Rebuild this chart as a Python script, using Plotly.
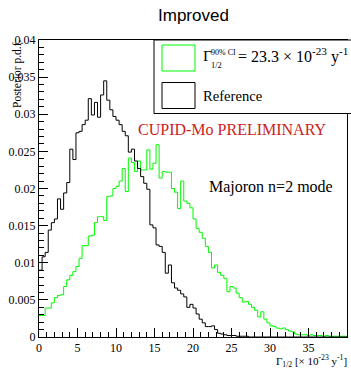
import plotly.graph_objects as go

# ---------------- data ----------------
bin_width = 0.4
n_bins = 100
bin_edges = [round(i * bin_width, 4) for i in range(n_bins + 1)]

reference_pdf = [
    0.0090, 0.0108, 0.0114, 0.0144, 0.0154, 0.0159, 0.0186, 0.0172, 0.0194, 0.0208,
    0.0253, 0.0239, 0.0275, 0.0277, 0.0286, 0.0292, 0.0321, 0.0299, 0.0316, 0.0296,
    0.0326, 0.0345, 0.0319, 0.0306, 0.0297, 0.0292, 0.0286, 0.0277, 0.0271, 0.0249,
    0.0253, 0.0237, 0.0227, 0.0216, 0.0207, 0.0199, 0.0151, 0.0147, 0.0124, 0.0122,
    0.0114, 0.0086, 0.0097, 0.0073, 0.0066, 0.0063, 0.0058, 0.0054, 0.0040, 0.0044,
    0.0039, 0.0031, 0.0024, 0.0019, 0.0014, 0.0014, 0.0015, 0.0010, 0.0005, 0.0004,
    0.0003, 0.0002, 0.0002, 0.0002, 0.0001, 0.0001, 0.0001, 0.0001, 0.0, 0.0,
    0.0, 0.0, 0.0, 0.0, 0.0, 0.0, 0.0, 0.0, 0.0, 0.0,
    0.0, 0.0, 0.0, 0.0, 0.0, 0.0, 0.0, 0.0, 0.0, 0.0,
    0.0, 0.0, 0.0, 0.0, 0.0, 0.0, 0.0, 0.0, 0.0, 0.0,
]

improved_pdf = [
    0.0029, 0.0029, 0.0039, 0.0039, 0.0046, 0.0053, 0.0056, 0.0057, 0.0068, 0.0077,
    0.0083, 0.0088, 0.0095, 0.0106, 0.0123, 0.0123, 0.0136, 0.0137, 0.0154, 0.0162,
    0.0162, 0.0157, 0.0189, 0.0190, 0.0200, 0.0203, 0.0210, 0.0227, 0.0196, 0.0241,
    0.0235, 0.0223, 0.0237, 0.0225, 0.0225, 0.0252, 0.0226, 0.0234, 0.0259, 0.0214,
    0.0223, 0.0222, 0.0222, 0.0200, 0.0195, 0.0173, 0.0210, 0.0183, 0.0180, 0.0174,
    0.0159, 0.0146, 0.0141, 0.0133, 0.0122, 0.0114, 0.0093, 0.0097, 0.0087, 0.0083,
    0.0079, 0.0061, 0.0068, 0.0066, 0.0059, 0.0053, 0.0047, 0.0048, 0.0044, 0.0040,
    0.0036, 0.0027, 0.0034, 0.0024, 0.0019, 0.0015, 0.0014, 0.0012, 0.0011, 0.0012,
    0.0010, 0.0008, 0.0007, 0.0004, 0.0003, 0.0003, 0.0003, 0.0002, 0.0003, 0.0002,
    0.0002, 0.0002, 0.0001, 0.0002, 0.0001, 0.0001, 0.0001, 0.0001, 0.0001, 0.0001,
]

x_tick_vals = [0, 5, 10, 15, 20, 25, 30, 35, 40]
x_tick_text = ["0", "5", "10", "15", "20", "25", "30", "35", "40"]
y_tick_vals = [0, 0.005, 0.01, 0.015, 0.02, 0.025, 0.03, 0.035, 0.04]
y_tick_text = ["0", "0.005", "0.01", "0.015", "0.02", "0.025", "0.03", "0.035", "0.04"]

title_text = "Improved"
legend_ci_value = "23.3"
legend_ref_text = "Reference"
prelim_text = "CUPID-Mo PRELIMINARY"
mode_text = "Majoron n=2 mode"
y_title = "Posterior p.d.f."

# ---------------- layout geometry ----------------
W, H = 351, 370
ML, MR, MT, MB = 39, 4, 40, 33
PW, PH = W - ML - MR, H - MT - MB

GREEN = "rgb(0,250,0)"
RED = "rgb(204,34,34)"
SERIF = "Liberation Serif"
SANS = "Liberation Sans"


def px(xp):
    return (xp - ML) / PW


def py(yp):
    return (H - MB - yp) / PH


fig = go.Figure()

fig.add_trace(go.Scatter(
    x=bin_edges, y=improved_pdf + [improved_pdf[-1]],
    mode="lines", line=dict(color=GREEN, width=1, shape="hv"),
    showlegend=False, hoverinfo="skip"))
fig.add_trace(go.Scatter(
    x=bin_edges, y=reference_pdf + [reference_pdf[-1]],
    mode="lines", line=dict(color="black", width=1, shape="hv"),
    showlegend=False, hoverinfo="skip"))

axis_common = dict(
    showgrid=False, zeroline=False, showline=True, mirror=True,
    linecolor="black", linewidth=1, ticks="inside", ticklen=9,
    tickwidth=1, tickcolor="black",
    tickfont=dict(family=SERIF, size=12, color="black"),
)

fig.update_xaxes(range=[0, 40], tickvals=x_tick_vals, ticktext=x_tick_text,
                 minor=dict(ticks="inside", ticklen=5, dtick=1, tickcolor="black"),
                 **axis_common)
fig.update_yaxes(range=[0, 0.04], tickvals=y_tick_vals, ticktext=y_tick_text,
                 minor=dict(ticks="inside", ticklen=5, dtick=0.001, tickcolor="black"),
                 **axis_common)

shapes = []
# legend frame
shapes.append(dict(type="rect", xref="paper", yref="paper",
                   x0=px(154), x1=px(352), y0=py(113.5), y1=py(40),
                   line=dict(color="black", width=1), fillcolor="white", layer="above"))
# legend symbol boxes
shapes.append(dict(type="rect", xref="paper", yref="paper",
                   x0=px(162), x1=px(195), y0=py(71), y1=py(45),
                   line=dict(color=GREEN, width=1), layer="above"))
shapes.append(dict(type="rect", xref="paper", yref="paper",
                   x0=px(162), x1=px(195), y0=py(108.5), y1=py(82.5),
                   line=dict(color="black", width=1), layer="above"))

annotations = []


def ann(text, x, y, size, color="black", family=SERIF, xanchor="left", yanchor="middle", angle=0):
    annotations.append(dict(text=text, x=x, y=y, xref="paper", yref="paper",
                            xanchor=xanchor, yanchor=yanchor, showarrow=False,
                            textangle=angle, borderpad=0,
                            font=dict(family=family, size=size, color=color)))


ann(title_text, px(193.5), py(15), 17, family=SANS, xanchor="center")
ann("Γ", px(201.5), py(56), 15.5)
ann("90% CI", px(210.5), py(52.5), 8)
ann("1/2", px(210.5), py(64.5), 8.5)
ann("= " + legend_ci_value + " × 10<sup>-23</sup> y<sup>-1</sup>", px(236.5), py(55), 16)
ann(legend_ref_text, px(202), py(96), 14.6)
ann(prelim_text, px(137), py(129.5), 16, color=RED)
ann(mode_text, px(208), py(187), 16)
ann(y_title, px(17.5), py(39.5), 11.5, xanchor="center", yanchor="top", angle=-90)
ann("Γ<sub>1/2</sub> [× 10<sup>-23</sup> y<sup>-1</sup>]", px(348), py(360.5), 11,
    xanchor="right")

fig.update_layout(
    width=W, height=H,
    margin=dict(l=ML, r=MR, t=MT, b=MB),
    paper_bgcolor="white", plot_bgcolor="white",
    shapes=shapes, annotations=annotations,
    showlegend=False,
)

fig.write_html("out.html")
